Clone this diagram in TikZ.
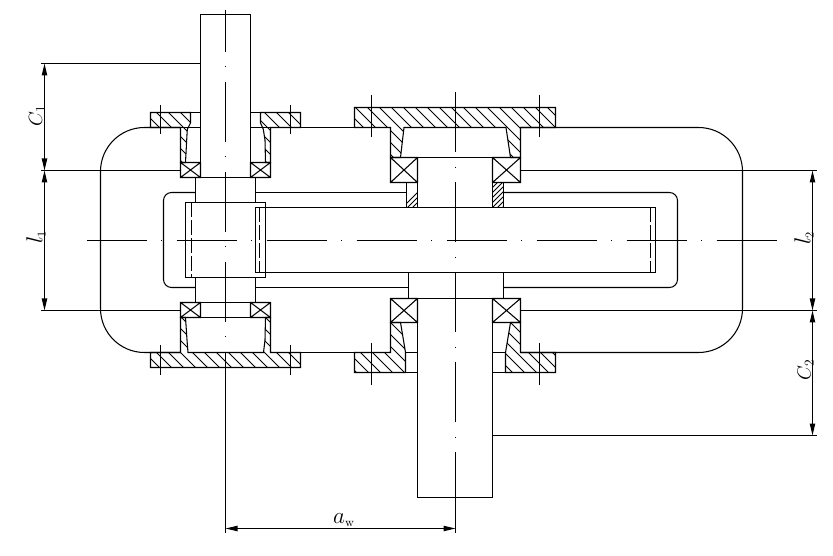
\documentclass[tikz,border=0pt]{standalone}
\usetikzlibrary{arrows.meta}

\tikzset{every picture/.style={line width=0.8pt}}
\tikzset{
  centerline/.style={dash pattern=on 45pt off 10.875pt on 0.75pt off 10.875pt},
  hiddenline/.style={dash pattern=on 11pt off 2.5pt},
  hatchline/.style={line width=0.6pt},
  dimline/.style={{Stealth[length=9pt,width=4pt,inset=0pt]}-{Stealth[length=9pt,width=4pt,inset=0pt]}},
  dimlabel/.style={inner sep=0pt, font=\fontsize{14pt}{14pt}\selectfont},
  biglabel/.style={inner sep=0pt, font=\fontsize{18pt}{18pt}\selectfont}
}
\newcommand{\crossbox}[4]{\draw (#1,#2) rectangle (#3,#4) (#1,#2) -- (#3,#4) (#1,#4) -- (#3,#2);}
\newcommand{\hatchback}[1]{\begin{scope}\clip #1;
  \foreach \k in {-230,-218,...,520} {\draw [hatchline] (\k,50) -- ++(400,400);}
  \end{scope}\draw #1;}
\newcommand{\hatchfwd}[1]{\begin{scope}\clip #1;
  \foreach \k in {560,565,...,730} {\draw [hatchline] (\k,50) -- ++(-400,400);}
  \end{scope}\draw #1;}

\begin{document}
\begin{tikzpicture}[x=0.75pt,y=0.75pt,yscale=-1,xscale=1]
\useasboundingbox (0,0) rectangle (833,556);

%Housing outer
\draw [rounded corners=33pt] (180.5,127.5) -- (100.5,127.5) -- (100.5,352.5) -- (180.5,352.5);
\draw [rounded corners=33pt] (520.5,127.5) -- (742.5,127.5) -- (742.5,352.5) -- (520.5,352.5);
\draw (270.5,127.5) -- (390.5,127.5);
\draw (270.5,352.5) -- (390.5,352.5);
%Housing cavity
\draw [rounded corners=6pt] (195.5,192.5) -- (163.5,192.5) -- (163.5,287.5) -- (195.5,287.5);
\draw [rounded corners=6pt] (503.5,192.5) -- (677.5,192.5) -- (677.5,287.5) -- (503.5,287.5);
\draw (255.5,192.5) -- (406.5,192.5);
\draw (255.5,287.5) -- (408.5,287.5);

%Input shaft
\draw (200.5,177.5) -- (200.5,14.5) -- (250.5,14.5) -- (250.5,177.5);
\draw (195.5,177.5) -- (195.5,202.5);
\draw (255.5,177.5) -- (255.5,202.5);
\draw (195.5,277.5) -- (195.5,302.5);
\draw (255.5,277.5) -- (255.5,302.5);
%Pinion
\draw (185.5,202.5) rectangle (265.5,277.5);
\draw [hiddenline] (191.5,202.5) -- (191.5,277.5);
%Wheel
\draw (255.5,207.5) rectangle (655.5,272.5);
\draw [hiddenline] (259.5,207.5) -- (259.5,272.5);
\draw [hiddenline] (650.5,207.5) -- (650.5,272.5);

%Output shaft
\draw (417.5,157.5) -- (417.5,207.5);
\draw (492.5,157.5) -- (492.5,207.5);
\draw (408.5,272.5) -- (408.5,298.5);
\draw (503.5,272.5) -- (503.5,298.5);
\draw (417.5,298.5) -- (417.5,497.5) -- (492.5,497.5) -- (492.5,298.5);

%Spacers
\hatchfwd{(406.5,182.5) -- (417.5,182.5) -- (417.5,207.5) -- (406.5,207.5) -- cycle}
\hatchfwd{(492.5,182.5) -- (503.5,182.5) -- (503.5,207.5) -- (492.5,207.5) -- cycle}

%Left top covers
\hatchback{(150.5,112.5) -- (190.5,112.5) -- (190.5,123) -- (187.3,129.3) -- (186.7,140) -- (185.5,162.5) -- (180.5,162.5) -- (180.5,127.5) -- (150.5,127.5) -- cycle}
\hatchback{(300.5,112.5) -- (260.5,112.5) -- (260.5,123) -- (263.3,129.3) -- (265,140) -- (265.5,162.5) -- (270.5,162.5) -- (270.5,127.5) -- (300.5,127.5) -- cycle}
\draw (190.5,112.5) -- (200.5,112.5);
\draw (180.5,127.5) -- (200.5,127.5);
\draw (250.5,112.5) -- (260.5,112.5);
\draw (250.5,127.5) -- (270.5,127.5);
%Left bottom cover
\hatchback{(150.5,352.5) -- (180.5,352.5) -- (180.5,317.5) -- (185.5,317.5) -- (187,340) -- (188,352.5) -- (263.5,352.5) -- (265,340) -- (265.5,317.5) -- (270.5,317.5) -- (270.5,352.5) -- (300.5,352.5) -- (300.5,367.5) -- (150.5,367.5) -- cycle}
%Right top cover
\hatchback{(354.5,107.5) -- (555.5,107.5) -- (555.5,127.5) -- (520.5,127.5) -- (520.5,157.5) -- (510.5,157.5) -- (506,127.5) -- (404,127.5) -- (400.5,157.5) -- (390.5,157.5) -- (390.5,127.5) -- (354.5,127.5) -- cycle}
%Right bottom covers
\hatchback{(354.5,352.5) -- (390.5,352.5) -- (390.5,322.5) -- (400.5,322.5) -- (405.5,352.5) -- (405.5,372.5) -- (354.5,372.5) -- cycle}
\hatchback{(505.5,372.5) -- (505.5,352.5) -- (510.5,322.5) -- (520.5,322.5) -- (520.5,352.5) -- (555.5,352.5) -- (555.5,372.5) -- cycle}
\draw (405.5,352.5) -- (417.5,352.5);
\draw (405.5,372.5) -- (417.5,372.5);
\draw (492.5,352.5) -- (505.5,352.5);
\draw (492.5,372.5) -- (505.5,372.5);

%Bearings
\crossbox{180.5}{162.5}{200.5}{177.5}
\crossbox{250.5}{162.5}{270.5}{177.5}
\crossbox{180.5}{302.5}{200.5}{317.5}
\crossbox{250.5}{302.5}{270.5}{317.5}
\crossbox{390.5}{157.5}{417.5}{182.5}
\crossbox{492.5}{157.5}{520.5}{182.5}
\crossbox{390.5}{298.5}{417.5}{322.5}
\crossbox{492.5}{298.5}{520.5}{322.5}
\draw (200.5,177.5) -- (250.5,177.5);
\draw (200.5,302.5) -- (250.5,302.5);
\draw (200.5,317.5) -- (250.5,317.5);
\draw (417.5,157.5) -- (492.5,157.5);
\draw (417.5,298.5) -- (492.5,298.5);

%Bolt axes
\foreach \bx in {160.5,290.5} {
  \draw (\bx,105) -- (\bx,134.5);
  \draw (\bx,345) -- (\bx,375.5);
}
\foreach \bx in {371.5,539.5} {
  \draw (\bx,95) -- (\bx,137.5);
  \draw (\bx,343.5) -- (\bx,385);
}

%Center lines
\draw [centerline] (86.7,240.5) -- (777,240.5);
\draw [centerline,dash phase=13.7pt] (225.5,10) -- (225.5,379);
\draw [centerline] (455.5,92.3) -- (455.5,510);

%Extension lines
\draw (41,63.5) -- (200.5,63.5);
\draw (41,170.5) -- (180.5,170.5);
\draw (41,310.5) -- (180.5,310.5);
\draw (520.5,170.5) -- (816.7,170.5);
\draw (520.5,310.5) -- (816.7,310.5);
\draw (492.5,435.5) -- (816.7,435.5);
\draw (225.5,367.5) -- (225.5,533);
\draw (455.5,497.5) -- (455.5,533);

%Dimensions
\coordinate (leftTop) at (44.5,63.5);
\coordinate (leftMid) at (44.5,170.5);
\coordinate (leftLow) at (44.5,310.5);
\coordinate (rightTop) at (812.5,170.5);
\coordinate (rightMid) at (812.5,310.5);
\coordinate (rightLow) at (812.5,435.5);
\coordinate (bottomL) at (225.5,528.5);
\coordinate (bottomR) at (455.5,528.5);
\draw [dimline] (leftTop) -- (leftMid);
\draw [dimline] (leftMid) -- (leftLow);
\draw [dimline] (rightTop) -- (rightMid);
\draw [dimline] (rightMid) -- (rightLow);
\draw [dimline] (bottomL) -- (bottomR);

% Text Node
\node [dimlabel,rotate=90] (labelCa) at (37,116) {$C_{1}$};
% Text Node
\node [biglabel,rotate=90] (labelLa) at (36,237) {$l_{\scriptscriptstyle 1}$};
% Text Node
\node [biglabel,rotate=90] (labelLb) at (804,238) {$l_{\scriptscriptstyle 2}$};
% Text Node
\node [dimlabel,rotate=90] (labelCb) at (805.5,370) {$C_{2}$};
% Text Node
\node [biglabel] (labelAw) at (344,520) {$a_{\scriptscriptstyle\mathrm{w}}$};

\end{tikzpicture}
\end{document}
